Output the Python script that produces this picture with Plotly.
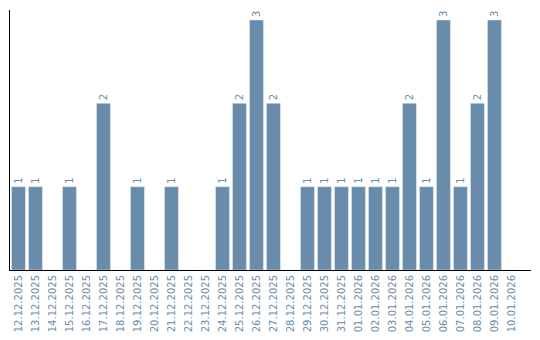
import plotly.graph_objects as go

dates = ["12.12.2025","13.12.2025","14.12.2025","15.12.2025","16.12.2025","17.12.2025",
         "18.12.2025","19.12.2025","20.12.2025","21.12.2025","22.12.2025","23.12.2025",
         "24.12.2025","25.12.2025","26.12.2025","27.12.2025","28.12.2025","29.12.2025",
         "30.12.2025","31.12.2025","01.01.2026","02.01.2026","03.01.2026","04.01.2026",
         "05.01.2026","06.01.2026","07.01.2026","08.01.2026","09.01.2026","10.01.2026"]
counts = [1,1,0,1,0,2,0,1,0,1,0,0,1,2,3,2,0,1,1,1,1,1,1,2,1,3,1,2,3,0]

color = "#6a8cab"
labels = [str(c) if c > 0 else "" for c in counts]

fig = go.Figure(go.Bar(
    x=dates, y=counts, marker_color=color,
    text=labels, textposition="outside", textangle=-90,
    textfont=dict(color=color, size=10, family="DejaVu Sans"),
    cliponaxis=False,
))
fig.update_layout(
    width=540, height=340,
    margin=dict(l=10, r=9, t=10, b=70),
    plot_bgcolor="white", paper_bgcolor="white",
    bargap=0.18, showlegend=False,
    font=dict(family="DejaVu Sans", size=10, color=color),
)
fig.update_xaxes(type="category", range=[-0.5, 30.15], showline=True, linecolor="black",
                 linewidth=1, tickangle=-90, ticks="", showgrid=False,
                 tickfont=dict(color=color, size=10, family="DejaVu Sans"))
fig.update_yaxes(range=[0, 3.12], showline=True, linecolor="black", linewidth=1,
                 showticklabels=False, showgrid=False, zeroline=False, ticks="")
fig.write_html("out.html")
